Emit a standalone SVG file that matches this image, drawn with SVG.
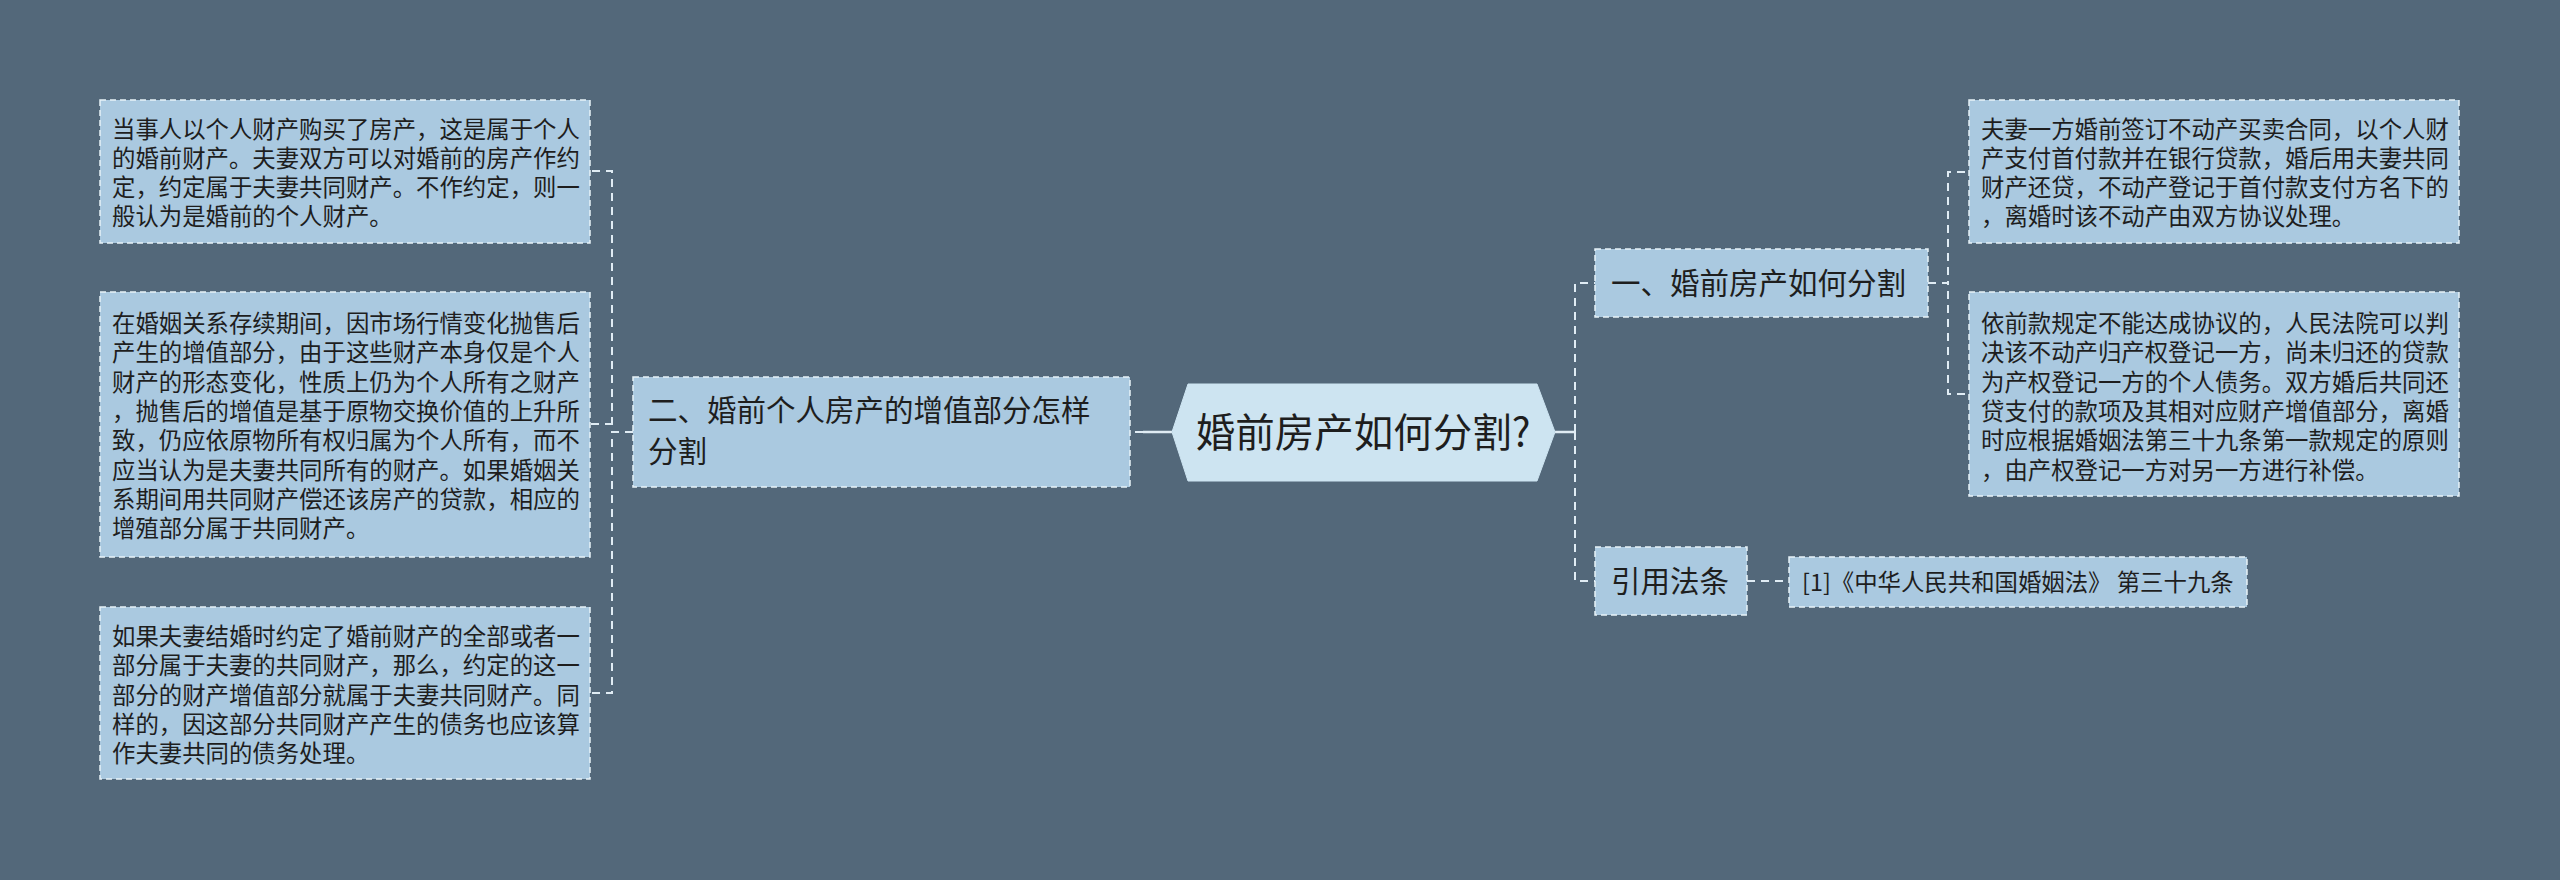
<svg xmlns="http://www.w3.org/2000/svg" width="2560" height="880" viewBox="0 0 2560 880">
<style>
.bg{fill:#53687a}
.box{fill:#aac9e0;stroke:#e8f2f8;stroke-width:1.5;stroke-dasharray:6 4}
.hub{fill:#cde4f1;stroke:#cde4f1;stroke-width:1}
.t{font-family:"Noto Sans CJK SC","Liberation Sans",sans-serif;fill:#1e1e1e}
.s{font-size:23.4px}
.m{font-size:29.5px}
.l{font-size:39.5px}
.c{fill:none;stroke:#e0ecf4;stroke-width:2;stroke-dasharray:8 6}
.cs{fill:none;stroke:#e0ecf4;stroke-width:2.5}
</style>
<rect class="bg" x="0" y="0" width="2560" height="880"/>
<g id="connectors">
<path class="cs" d="M1172,432 H1143"/>
<path class="c" d="M1143,432 H1130"/>
<path class="c" d="M633,432 H612 V171 H591"/>
<path class="c" d="M633,432 H612 V424 H591"/>
<path class="c" d="M633,432 H612 V693 H591"/>
<path class="cs" d="M1555,432 H1575"/>
<path class="c" d="M1575,432 V283 H1595"/>
<path class="c" d="M1575,432 V581 H1595"/>
<path class="c" d="M1928,283 H1948 V172 H1969"/>
<path class="c" d="M1928,283 H1948 V394 H1969"/>
<path class="c" d="M1747,581 H1789"/>
</g>
<g id="center">
<polygon class="hub" points="1172,432 1188,384 1537,384 1555,432 1537,481 1188,481"/>
<text class="t l" x="1363" y="447" text-anchor="middle">婚前房产如何分割?</text>
</g>
<g id="node-left">
<rect class="box" x="633" y="377" width="497" height="110"/>
<text class="t m"><tspan x="648" y="421">二、婚前个人房产的增值部分怎样</tspan><tspan x="648" y="462">分割</tspan></text>
</g>
<g id="left-1">
<rect class="box" x="100" y="100" width="490" height="143"/>
<text class="t s"><tspan x="112" y="138">当事人以个人财产购买了房产，这是属于个人</tspan><tspan x="112" y="167">的婚前财产。夫妻双方可以对婚前的房产作约</tspan><tspan x="112" y="196">定，约定属于夫妻共同财产。不作约定，则一</tspan><tspan x="112" y="225">般认为是婚前的个人财产。</tspan></text>
</g>
<g id="left-2">
<rect class="box" x="100" y="292" width="490" height="265"/>
<text class="t s"><tspan x="112" y="332">在婚姻关系存续期间，因市场行情变化抛售后</tspan><tspan x="112" y="361.3">产生的增值部分，由于这些财产本身仅是个人</tspan><tspan x="112" y="390.6">财产的形态变化，性质上仍为个人所有之财产</tspan><tspan x="112" y="419.9">，抛售后的增值是基于原物交换价值的上升所</tspan><tspan x="112" y="449.2">致，仍应依原物所有权归属为个人所有，而不</tspan><tspan x="112" y="478.5">应当认为是夫妻共同所有的财产。如果婚姻关</tspan><tspan x="112" y="507.8">系期间用共同财产偿还该房产的贷款，相应的</tspan><tspan x="112" y="537.1">增殖部分属于共同财产。</tspan></text>
</g>
<g id="left-3">
<rect class="box" x="100" y="607" width="490" height="172"/>
<text class="t s"><tspan x="112" y="645">如果夫妻结婚时约定了婚前财产的全部或者一</tspan><tspan x="112" y="674.3">部分属于夫妻的共同财产，那么，约定的这一</tspan><tspan x="112" y="703.6">部分的财产增值部分就属于夫妻共同财产。同</tspan><tspan x="112" y="732.9">样的，因这部分共同财产产生的债务也应该算</tspan><tspan x="112" y="762.2">作夫妻共同的债务处理。</tspan></text>
</g>
<g id="node-right-1">
<rect class="box" x="1595" y="249" width="333" height="68"/>
<text class="t m" x="1611" y="294">一、婚前房产如何分割</text>
</g>
<g id="right-1">
<rect class="box" x="1969" y="100" width="490" height="143"/>
<text class="t s"><tspan x="1981" y="138">夫妻一方婚前签订不动产买卖合同，以个人财</tspan><tspan x="1981" y="167">产支付首付款并在银行贷款，婚后用夫妻共同</tspan><tspan x="1981" y="196">财产还贷，不动产登记于首付款支付方名下的</tspan><tspan x="1981" y="225">，离婚时该不动产由双方协议处理。</tspan></text>
</g>
<g id="right-2">
<rect class="box" x="1969" y="292" width="490" height="204"/>
<text class="t s"><tspan x="1981" y="332">依前款规定不能达成协议的，人民法院可以判</tspan><tspan x="1981" y="361.3">决该不动产归产权登记一方，尚未归还的贷款</tspan><tspan x="1981" y="390.6">为产权登记一方的个人债务。双方婚后共同还</tspan><tspan x="1981" y="419.9">贷支付的款项及其相对应财产增值部分，离婚</tspan><tspan x="1981" y="449.2">时应根据婚姻法第三十九条第一款规定的原则</tspan><tspan x="1981" y="478.5">，由产权登记一方对另一方进行补偿。</tspan></text>
</g>
<g id="node-right-2">
<rect class="box" x="1595" y="547" width="152" height="68"/>
<text class="t m" x="1611" y="592">引用法条</text>
</g>
<g id="ref-1">
<rect class="box" x="1789" y="557" width="458" height="50"/>
<text class="t s" x="1802" y="591">[1]《中华人民共和国婚姻法》 第三十九条</text>
</g>
</svg>
